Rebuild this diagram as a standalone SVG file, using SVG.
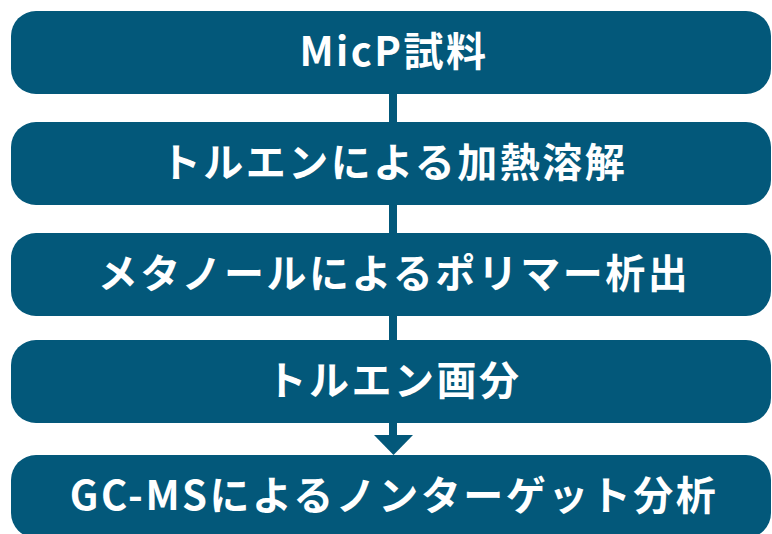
<svg xmlns="http://www.w3.org/2000/svg" width="772" height="534" viewBox="0 0 772 534">
<style>
.box{fill:#03587a;}
.lbl{fill:#ffffff;font-family:"Noto Sans CJK JP","Noto Sans",sans-serif;font-weight:bold;font-size:40px;letter-spacing:2.5px;text-anchor:middle;}
.con{fill:#03587a;}
</style>
<rect width="772" height="534" fill="#ffffff"/>
<g id="connectors">
<rect class="con" x="389" y="93" width="8" height="30"/>
<rect class="con" x="389" y="204" width="8" height="30"/>
<rect class="con" x="389" y="315" width="8" height="26"/>
<rect class="con" x="389" y="422" width="8" height="14"/>
<polygon class="con" points="374,435 413,435 393.5,455"/>
</g>
<g id="n1"><rect class="box" x="11" y="11" width="760" height="83" rx="25"/><text class="lbl" x="394" y="66">MicP試料</text></g>
<g id="n2"><rect class="box" x="11" y="122" width="760" height="83" rx="25"/><text class="lbl" x="394" y="177">トルエンによる加熱溶解</text></g>
<g id="n3"><rect class="box" x="11" y="233" width="760" height="83" rx="25"/><text class="lbl" x="394" y="288">メタノールによるポリマー析出</text></g>
<g id="n4"><rect class="box" x="11" y="340" width="760" height="83" rx="25"/><text class="lbl" x="394" y="395">トルエン画分</text></g>
<g id="n5"><rect class="box" x="11" y="455" width="760" height="83" rx="25"/><text class="lbl" x="394" y="510">GC-MSによるノンターゲット分析</text></g>
</svg>
